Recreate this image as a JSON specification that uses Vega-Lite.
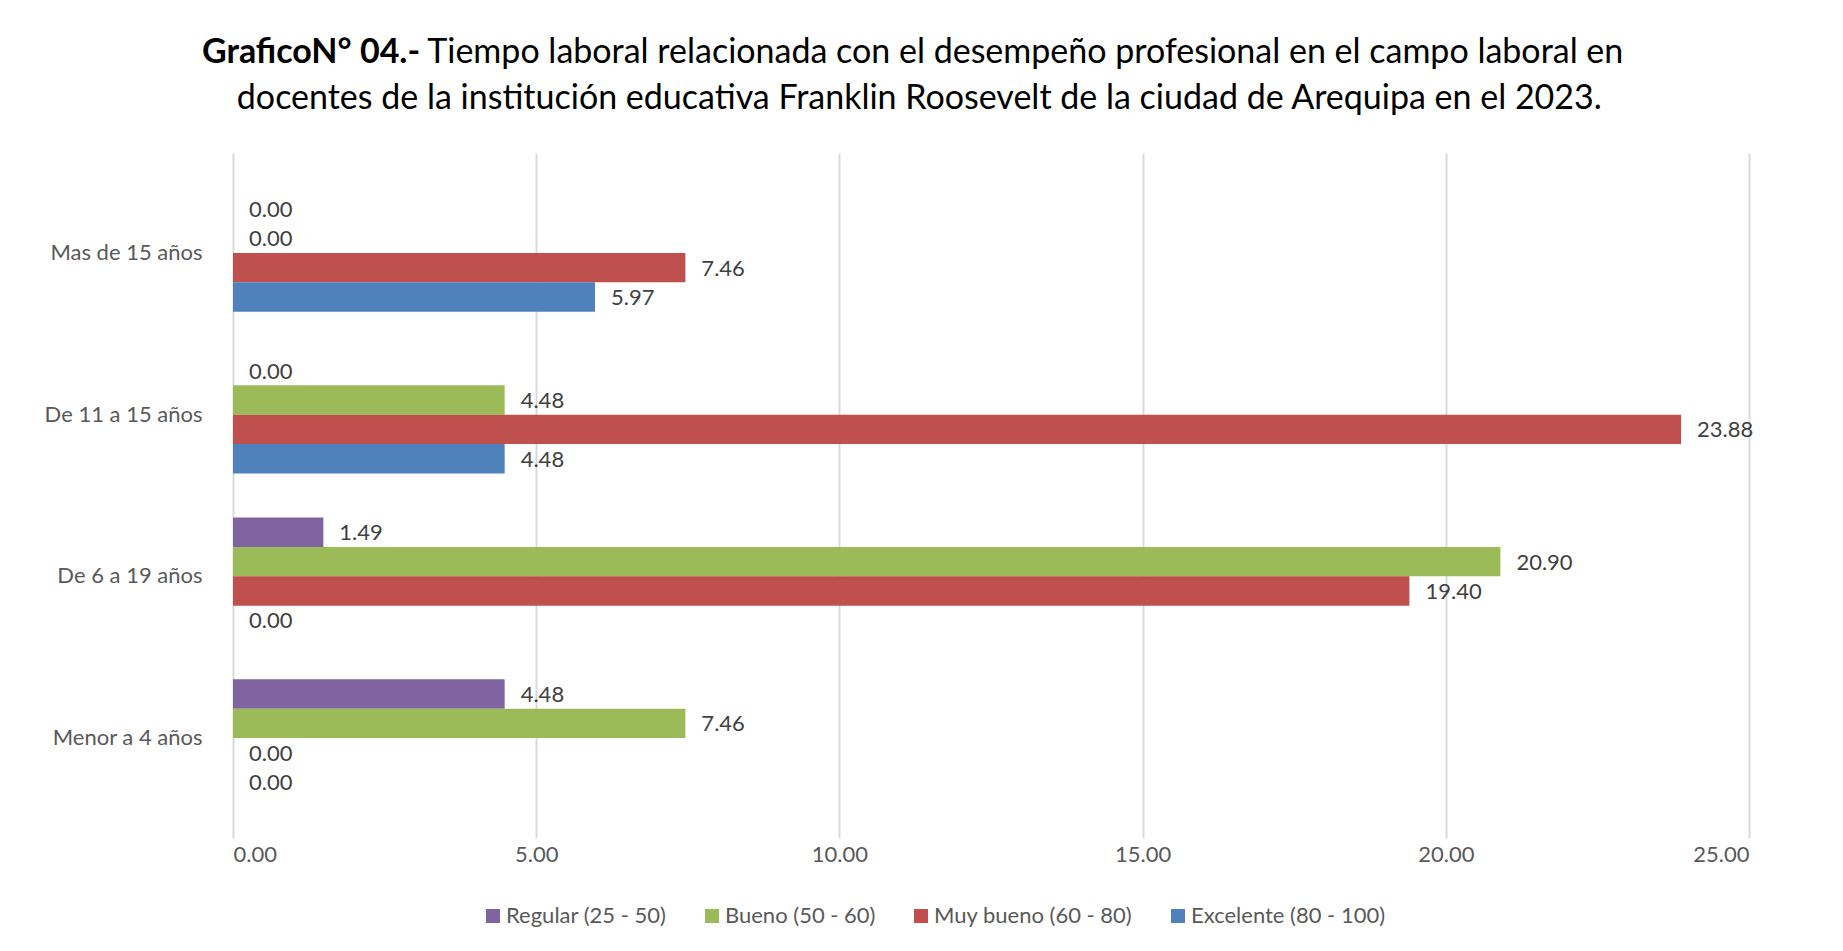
{
  "$schema": "https://vega.github.io/schema/vega-lite/v6.json",
  "width": 1516,
  "height": 685,
  "autosize": {"type": "pad"},
  "padding": {"left": 0, "top": 36, "right": 0, "bottom": 0},
  "background": "#ffffff",
  "title": {
    "text": "GraficoN° 04.-",
    "subtitle": [
      "\u200b\u00a0\u00a0\u00a0\u00a0\u00a0\u00a0\u00a0\u00a0\u00a0\u00a0\u00a0\u00a0\u00a0\u00a0\u00a0\u00a0\u00a0\u00a0\u00a0\u00a0\u00a0\u00a0\u00a0\u00a0\u00a0\u00a0Tiempo laboral relacionada con el desempeño profesional en el campo laboral en",
      "\u200b\u00a0\u00a0\u00a0\u00a0docentes de la institución educativa Franklin Roosevelt de la ciudad de Arequipa en el 2023."
    ],
    "anchor": "start",
    "frame": "group",
    "dx": -31,
    "font": "Lato",
    "fontSize": 34,
    "fontWeight": "bold",
    "color": "#000000",
    "subtitleFont": "Lato",
    "subtitleFontSize": 34,
    "subtitleFontWeight": "normal",
    "subtitleColor": "#000000",
    "subtitleLineHeight": 46,
    "subtitlePadding": -34,
    "offset": 37
  },
  "data": {
    "values": [
      {"tiempo": "Mas de 15 años", "nivel": "Regular (25 - 50)", "valor": 0},
      {"tiempo": "Mas de 15 años", "nivel": "Bueno (50 - 60)", "valor": 0},
      {"tiempo": "Mas de 15 años", "nivel": "Muy bueno (60 - 80)", "valor": 7.46},
      {"tiempo": "Mas de 15 años", "nivel": "Excelente (80 - 100)", "valor": 5.97},
      {"tiempo": "De 11 a 15 años", "nivel": "Regular (25 - 50)", "valor": 0},
      {"tiempo": "De 11 a 15 años", "nivel": "Bueno (50 - 60)", "valor": 4.48},
      {"tiempo": "De 11 a 15 años", "nivel": "Muy bueno (60 - 80)", "valor": 23.88},
      {"tiempo": "De 11 a 15 años", "nivel": "Excelente (80 - 100)", "valor": 4.48},
      {"tiempo": "De 6 a 19 años", "nivel": "Regular (25 - 50)", "valor": 1.49},
      {"tiempo": "De 6 a 19 años", "nivel": "Bueno (50 - 60)", "valor": 20.90},
      {"tiempo": "De 6 a 19 años", "nivel": "Muy bueno (60 - 80)", "valor": 19.40},
      {"tiempo": "De 6 a 19 años", "nivel": "Excelente (80 - 100)", "valor": 0},
      {"tiempo": "Menor a 4 años", "nivel": "Regular (25 - 50)", "valor": 4.48},
      {"tiempo": "Menor a 4 años", "nivel": "Bueno (50 - 60)", "valor": 7.46},
      {"tiempo": "Menor a 4 años", "nivel": "Muy bueno (60 - 80)", "valor": 0},
      {"tiempo": "Menor a 4 años", "nivel": "Excelente (80 - 100)", "valor": 0}
    ]
  },
  "encoding": {
    "y": {
      "field": "tiempo",
      "type": "nominal",
      "sort": ["Mas de 15 años", "De 11 a 15 años", "De 6 a 19 años", "Menor a 4 años"],
      "scale": {"paddingInner": 0.273, "paddingOuter": 0.254},
      "axis": {
        "title": null,
        "ticks": false,
        "domain": false,
        "labelFont": "Lato",
        "labelFontSize": 22,
        "labelColor": "#595959",
        "labelPadding": 31,
        "minExtent": 233,
        "maxExtent": 233
      }
    },
    "yOffset": {
      "field": "nivel",
      "type": "nominal",
      "sort": ["Regular (25 - 50)", "Bueno (50 - 60)", "Muy bueno (60 - 80)", "Excelente (80 - 100)"],
      "scale": {"paddingInner": 0, "paddingOuter": 0}
    },
    "x": {
      "field": "valor",
      "type": "quantitative",
      "scale": {"domain": [0, 25], "nice": false},
      "axis": {
        "title": null,
        "values": [0, 5, 10, 15, 20, 25],
        "format": ".2f",
        "ticks": false,
        "domain": false,
        "grid": true,
        "gridColor": "#d9d9d9",
        "gridWidth": 2,
        "labelFont": "Lato",
        "labelFontSize": 22,
        "labelColor": "#595959",
        "labelPadding": 6,
        "labelDx": -7
      }
    }
  },
  "layer": [
    {
      "mark": {"type": "bar"},
      "encoding": {
        "color": {
          "field": "nivel",
          "type": "nominal",
          "sort": ["Regular (25 - 50)", "Bueno (50 - 60)", "Muy bueno (60 - 80)", "Excelente (80 - 100)"],
          "scale": {
            "domain": ["Regular (25 - 50)", "Bueno (50 - 60)", "Muy bueno (60 - 80)", "Excelente (80 - 100)"],
            "range": ["#8064A2", "#9BBB59", "#C0504D", "#4F81BD"]
          },
          "legend": {
            "title": null,
            "orient": "none",
            "legendX": 249,
            "legendY": 752,
            "direction": "horizontal",
            "symbolType": "square",
            "symbolSize": 196,
            "symbolStrokeWidth": 0,
            "labelFont": "Lato",
            "labelFontSize": 22,
            "labelColor": "#595959",
            "labelLimit": 400,
            "columnPadding": 34,
            "labelOffset": 2
          }
        }
      }
    },
    {
      "mark": {"type": "text", "align": "left", "baseline": "middle", "dx": 16, "dy": 1, "font": "Lato", "fontSize": 22, "color": "#404040"},
      "encoding": {
        "text": {"field": "valor", "type": "quantitative", "format": ".2f"}
      }
    }
  ],
  "config": {
    "view": {"stroke": null}
  }
}
